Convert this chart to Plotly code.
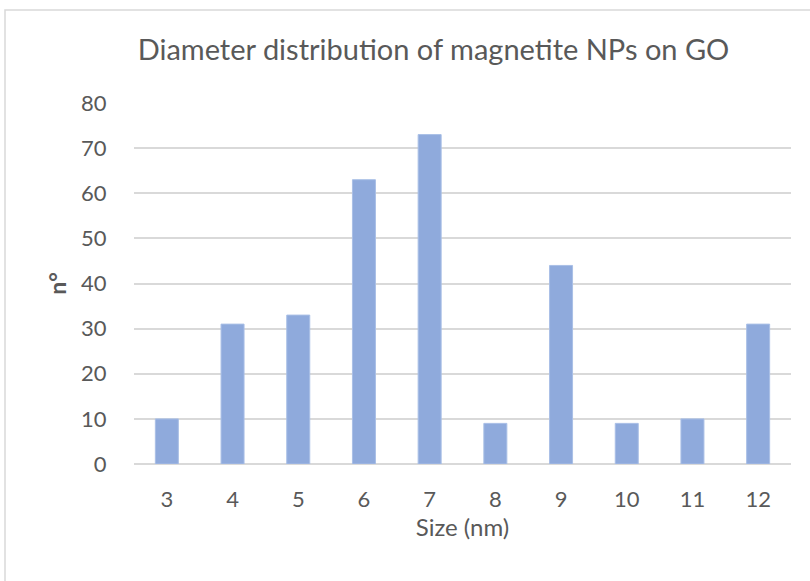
import plotly.graph_objects as go

sizes = ["3", "4", "5", "6", "7", "8", "9", "10", "11", "12"]
counts = [10, 31, 33, 63, 73, 9, 44, 9, 10, 31]
y_ticks = [0, 10, 20, 30, 40, 50, 60, 70, 80]

W, H = 810, 581
L, R, T, B = 134, 19, 103, 117
pw, ph = W - L - R, H - T - B

def px(x):
    return (x - L) / pw

def py(y):
    return (H - B - y) / ph

fig = go.Figure(go.Bar(
    x=sizes, y=counts,
    marker=dict(color="#8faadc", line=dict(color="#a9bfe6", width=1)),
    width=0.35,
))

font = "Lato, 'Open Sans', sans-serif"
fig.update_layout(
    width=W, height=H,
    margin=dict(l=L, r=R, t=T, b=B),
    paper_bgcolor="white", plot_bgcolor="white",
    showlegend=False,
    font=dict(family=font, color="#595959", size=22),
    title=dict(text="Diameter distribution of magnetite NPs on GO",
               x=px(433.5), xanchor="center", xref="paper",
               y=1 - 50 / H, yanchor="middle",
               font=dict(size=29, color="#595959", family=font)),
    xaxis=dict(title=dict(text="Size (nm)", standoff=2, font=dict(size=24)),
               showgrid=False, showline=False, zeroline=False,
               ticks="outside", ticklen=16, tickcolor="rgba(0,0,0,0)",
               tickfont=dict(size=22)),
    yaxis=dict(range=[0, 80], tickvals=y_ticks, showgrid=True,
               gridcolor="#d9d9d9", gridwidth=1.5, zeroline=True,
               zerolinecolor="#d9d9d9", zerolinewidth=1.5,
               ticks="outside", ticklen=22, tickcolor="rgba(0,0,0,0)",
               tickfont=dict(size=22),
               title=dict(text="<b>n°</b>", standoff=8, font=dict(size=23))),
    shapes=[dict(type="rect", xref="paper", yref="paper",
                 x0=px(5), x1=px(830), y0=py(600), y1=py(10),
                 line=dict(color="#d9d9d9", width=1.5), layer="below")],
)

fig.write_html("out.html")
